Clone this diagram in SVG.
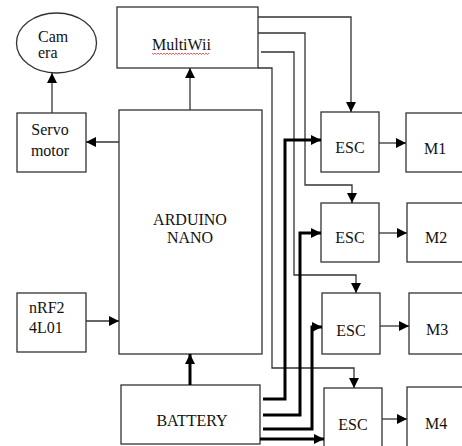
<svg xmlns="http://www.w3.org/2000/svg" width="462" height="446" viewBox="0 0 462 446">
<defs>
<style>
.box{fill:#fff;stroke:#333;stroke-width:1.3}
.t{font-family:"Liberation Serif","Times New Roman",serif;font-size:16px;fill:#111}
.c{text-anchor:middle}
.sig{fill:none;stroke:#333;stroke-width:1.3}
.pwr{fill:none;stroke:#000;stroke-width:3}
</style>
<marker id="ah" markerUnits="userSpaceOnUse" markerWidth="10" markerHeight="10" refX="10" refY="5" orient="auto" viewBox="0 0 10 10">
<path d="M0,0 L10,5 L0,10 z" fill="#000"/>
</marker>
</defs>
<rect width="462" height="446" fill="#fff"/>

<g id="camera">
<ellipse cx="56.5" cy="43" rx="40" ry="30" class="box"/>
<text class="t" x="38" y="42">Cam</text>
<text class="t" x="38" y="58">era</text>
</g>
<g id="multiwii">
<rect x="117" y="7" width="141" height="61" class="box"/>
<text class="t" x="152" y="50">MultiWii</text>
<path d="M152,53 l1.5,1.5 l1.5,-1.5 l1.5,1.5 l1.5,-1.5 l1.5,1.5 l1.5,-1.5 l1.5,1.5 l1.5,-1.5 l1.5,1.5 l1.5,-1.5 l1.5,1.5 l1.5,-1.5 l1.5,1.5 l1.5,-1.5 l1.5,1.5 l1.5,-1.5 l1.5,1.5 l1.5,-1.5 l1.5,1.5 l1.5,-1.5 l1.5,1.5 l1.5,-1.5 l1.5,1.5 l1.5,-1.5 l1.5,1.5 l1.5,-1.5 l1.5,1.5 l1.5,-1.5 l1.5,1.5 l1.5,-1.5 l1.5,1.5 l1.5,-1.5 l1.5,1.5 l1.5,-1.5 l1.5,1.5 l1.5,-1.5 l1.5,1.5 l1.5,-1.5" fill="none" stroke="#e33" stroke-width="0.8"/>
</g>
<g id="servo">
<rect x="17" y="113" width="69" height="59" class="box"/>
<text class="t c" x="50" y="135">Servo</text>
<text class="t c" x="50" y="156">motor</text>
</g>
<g id="arduino">
<rect x="119" y="110" width="143" height="244" class="box"/>
<text class="t c" x="190" y="225">ARDUINO</text>
<text class="t c" x="190" y="243">NANO</text>
</g>
<g id="nrf">
<rect x="17" y="293" width="69" height="59" class="box"/>
<text class="t" x="29" y="313">nRF2</text>
<text class="t" x="29" y="333">4L01</text>
</g>
<g id="battery">
<rect x="121" y="385" width="139" height="59" class="box"/>
<text class="t c" x="192" y="426">BATTERY</text>
</g>
<g id="esc1">
<rect x="321" y="112" width="58" height="60" class="box"/>
<text class="t c" x="350" y="153">ESC</text>
</g>
<g id="esc2">
<rect x="321" y="203" width="58" height="59" class="box"/>
<text class="t c" x="350" y="243">ESC</text>
</g>
<g id="esc3">
<rect x="322" y="293" width="58" height="61" class="box"/>
<text class="t c" x="351" y="336">ESC</text>
</g>
<g id="esc4">
<rect x="324" y="388" width="58" height="62" class="box"/>
<text class="t c" x="353" y="430">ESC</text>
</g>
<g id="m1">
<rect x="406" y="113" width="60" height="59" class="box"/>
<text class="t" x="424" y="154">M1</text>
</g>
<g id="m2">
<rect x="407" y="203" width="60" height="59" class="box"/>
<text class="t" x="425" y="243">M2</text>
</g>
<g id="m3">
<rect x="409" y="293" width="60" height="61" class="box"/>
<text class="t" x="426" y="335">M3</text>
</g>
<g id="m4">
<rect x="407" y="387" width="60" height="63" class="box"/>
<text class="t" x="425" y="429">M4</text>
</g>

<g id="connectors">
<path class="sig" d="M190,110 V68" marker-end="url(#ah)"/>
<path class="sig" d="M52,113 V73" marker-end="url(#ah)"/>
<path class="sig" d="M119,142 H86" marker-end="url(#ah)"/>
<path class="sig" d="M86,321 H119" marker-end="url(#ah)"/>
<path class="pwr" d="M190,385 V354" marker-end="url(#ah)"/>

<path class="sig" d="M258,17 H351 V112" marker-end="url(#ah)"/>
<path class="sig" d="M258,33 H305 V185 H352 V203" marker-end="url(#ah)"/>
<path class="sig" d="M261,52 H294 V275 H356 V293" marker-end="url(#ah)"/>
<path class="sig" d="M258,68 H272 V368 H354 V388" marker-end="url(#ah)"/>

<path class="pwr" d="M263,399 H285 V140 H321" marker-end="url(#ah)"/>
<path class="pwr" d="M263,415 H300 V233 H321" marker-end="url(#ah)"/>
<path class="pwr" d="M263,429 H312 V327 H322" marker-end="url(#ah)"/>
<path class="pwr" d="M260,439 H324" marker-end="url(#ah)"/>

<path class="sig" d="M379,143 H406" marker-end="url(#ah)"/>
<path class="sig" d="M379,233 H407" marker-end="url(#ah)"/>
<path class="sig" d="M380,326 H409" marker-end="url(#ah)"/>
<path class="sig" d="M382,419 H407" marker-end="url(#ah)"/>
</g>
</svg>
